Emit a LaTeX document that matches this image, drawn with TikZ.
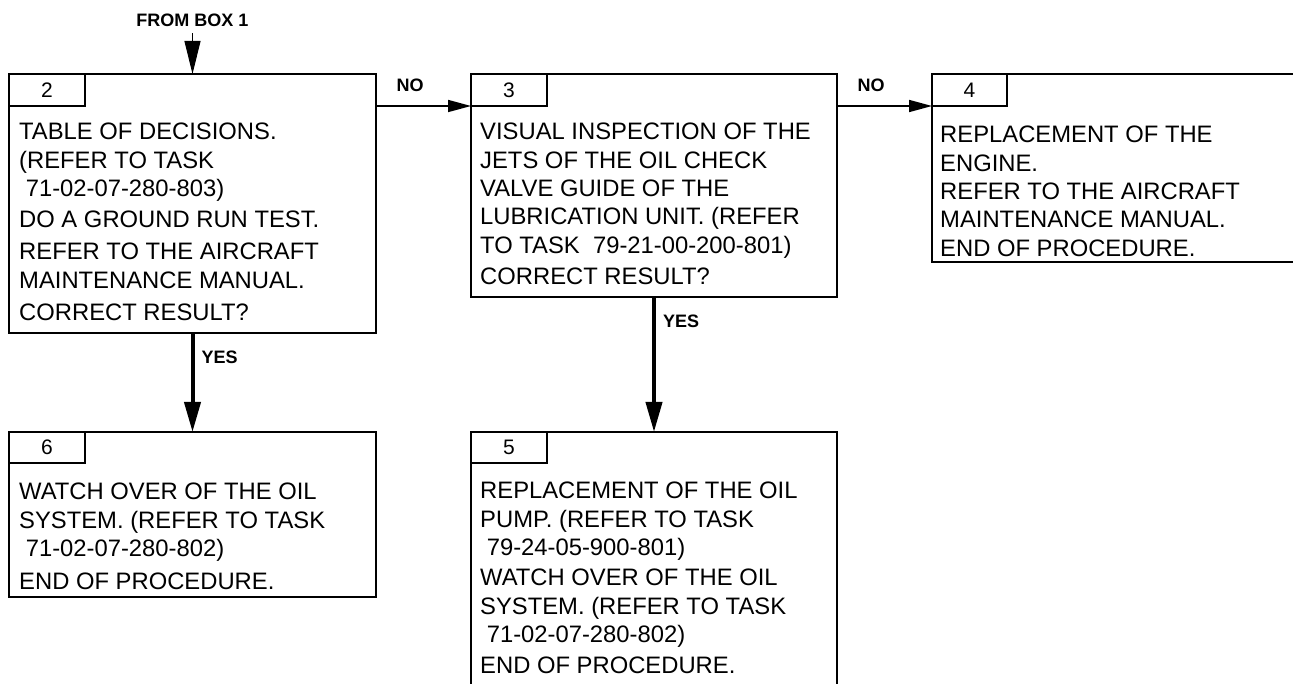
\documentclass[tikz,border=0pt]{standalone}
\usepackage{fontspec}
\setmainfont{Liberation Sans}
\usetikzlibrary{arrows.meta, calc, positioning}

\tikzset{
  taskbox/.style={draw, line width=2.2pt, anchor=north west, inner sep=0pt, outer sep=0pt},
  tabbox/.style={draw, line width=2.2pt, anchor=north west, inner sep=0pt, outer sep=0pt,
    minimum width=76pt, minimum height=32pt, font=\fontsize{21}{24}\selectfont},
  boxtext/.style={anchor=north west, align=left, inner sep=0pt,
    font=\fontsize{23.8}{28.3}\selectfont},
  flowlabel/.style={inner sep=0pt, font=\fontsize{18}{20}\selectfont\bfseries},
  inarrow/.style={line width=1pt, -{Triangle[length=33pt,width=16pt]}},
  noarrow/.style={line width=1.6pt, -{Triangle[length=23pt,width=12pt]}},
  yesarrow/.style={line width=4pt, -{Triangle[length=30pt,width=16pt]}},
}

\begin{document}
\begin{tikzpicture}[x=1pt, y=-1pt]
  \useasboundingbox (0,0) rectangle (1293,684);
  \clip (0,0) rectangle (1293,684);

  % ── Boxes 2, 3, 4 (top row) ───────────────────────────────────────
  \node[taskbox, minimum width=367pt, minimum height=259pt] (box2) at (9,74)   {};
  \node[taskbox, minimum width=366pt, minimum height=223pt] (box3) at (471,74) {};
  \node[taskbox, minimum width=378pt, minimum height=188pt] (box4) at (932,74) {};

  \node[tabbox] (tab2) at (box2.north west) {2};
  \node[tabbox] (tab3) at (box3.north west) {3};
  \node[tabbox, minimum width=75pt] (tab4) at (box4.north west) {4};

  \node[boxtext] (txt2) at ($(box2.north west)+(10,49)$)
    {TABLE OF DECISIONS.\\(REFER TO TASK\\\ 71-02-07-280-803)\\[3pt]
     DO A GROUND RUN TEST.\\[3pt]REFER TO THE AIRCRAFT\\[1.5pt]
     MAINTENANCE MANUAL.\\[3pt]CORRECT RESULT?};
  \node[boxtext] (txt3) at ($(box3.north west)+(9,49)$)
    {VISUAL INSPECTION OF THE\\JETS OF THE OIL CHECK\\VALVE GUIDE OF THE\\
     LUBRICATION UNIT. (REFER\\TO TASK\ \ 79-21-00-200-801)\\[3.4pt]
     CORRECT RESULT?};
  \node[boxtext] (txt4) at ($(box4.north west)+(8,52)$)
    {REPLACEMENT OF THE\\ENGINE.\\REFER TO THE AIRCRAFT\\
     MAINTENANCE MANUAL.\\END OF PROCEDURE.};

  % ── Boxes 6, 5 (bottom row) ───────────────────────────────────────
  \node[taskbox, minimum width=367pt, minimum height=165pt] (box6) at (9,432)   {};
  \node[taskbox, minimum width=366pt, minimum height=268pt] (box5) at (471,432) {};

  \node[tabbox, minimum height=31pt] (tab6) at (box6.north west) {6};
  \node[tabbox, minimum height=31pt] (tab5) at (box5.north west) {5};

  \node[boxtext] (txt6) at ($(box6.north west)+(10,51)$)
    {WATCH OVER OF THE OIL\\SYSTEM. (REFER TO TASK\\\ 71-02-07-280-802)\\[5pt]
     END OF PROCEDURE.};
  \node[boxtext] (txt5) at ($(box5.north west)+(9,50)$)
    {REPLACEMENT OF THE OIL\\PUMP. (REFER TO TASK\\\ 79-24-05-900-801)\\[2pt]
     WATCH OVER OF THE OIL\\SYSTEM. (REFER TO TASK\\\ 71-02-07-280-802)\\[3pt]
     END OF PROCEDURE.};

  % ── Connectors ────────────────────────────────────────────────────
  \node[flowlabel] (from1) at ($(box2.north)+(0,-54)$) {FROM BOX 1};
  \draw[inarrow] ([yshift=-6.5pt]from1.south) -- (box2.north);

  \draw[noarrow] (box2.east |- tab3.south) -- (tab3.south west)
    node[flowlabel, pos=0.36, above=13.5pt] (no23) {NO};
  \draw[noarrow] (box3.east |- tab4.south) -- (tab4.south west)
    node[flowlabel, pos=0.36, above=13.5pt] (no34) {NO};

  \draw[yesarrow] (box2.south) -- (box6.north)
    node[flowlabel, pos=0.25, right=7pt] (yes26) {YES};
  \draw[yesarrow] (box3.south) -- (box5.north)
    node[flowlabel, pos=0.18, right=7pt] (yes35) {YES};
\end{tikzpicture}
\end{document}
